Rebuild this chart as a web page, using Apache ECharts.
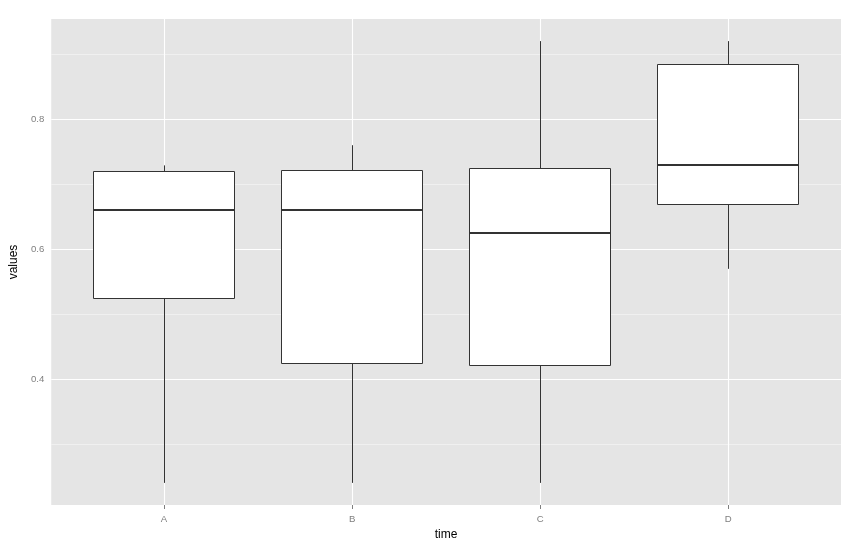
<!DOCTYPE html>
<html>
<head>
<meta charset="utf-8">
<script src="https://cdn.jsdelivr.net/npm/echarts@6/dist/echarts.min.js"></script>
<style>
  html, body { margin: 0; padding: 0; background: #fff; }
  #chart { width: 862px; height: 551px; }
</style>
</head>
<body>
<div id="chart"></div>
<script>
// boxplot stats
const categories = ['A', 'B', 'C', 'D'];
const lowWhisker = [0.241, 0.241, 0.241, 0.570];
const lowerQuartile = [0.525, 0.425, 0.421, 0.669];
const medians = [0.661, 0.660, 0.625, 0.730];
const upperQuartile = [0.720, 0.721, 0.724, 0.884];
const highWhisker = [0.729, 0.760, 0.920, 0.920];

const majorY = [0.4, 0.6, 0.8];
const minorY = [0.3, 0.5, 0.7, 0.9];
const catPos = [0, 1, 2, 3];

const boxData = categories.map((c, i) => [
    i, lowWhisker[i], lowerQuartile[i], medians[i], upperQuartile[i], highWhisker[i]
]);

// keep 1px strokes on the pixel grid
function crisp(v) {
    return Math.round(v - 0.5) + 0.5;
}

function renderBox(params, api) {
    const i = api.value(0);
    const lo = api.coord([i, api.value(1)]);
    const b1 = api.coord([i, api.value(2)]);
    const md = api.coord([i, api.value(3)]);
    const b3 = api.coord([i, api.value(4)]);
    const hi = api.coord([i, api.value(5)]);
    const w = api.size([0.75, 0])[0];
    const cx = crisp(lo[0]);
    const x0 = crisp(lo[0] - w / 2);
    const x1 = crisp(lo[0] + w / 2);
    const yTop = crisp(b3[1]);
    const yBot = crisp(b1[1]);
    const yMed = Math.round(md[1]);
    const stroke = '#333333';
    return {
        type: 'group',
        children: [
            { type: 'line', shape: { x1: cx, y1: lo[1], x2: cx, y2: yBot }, style: { stroke: stroke, lineWidth: 1 } },
            { type: 'line', shape: { x1: cx, y1: hi[1], x2: cx, y2: yTop }, style: { stroke: stroke, lineWidth: 1 } },
            { type: 'rect', shape: { x: x0, y: yTop, width: x1 - x0, height: yBot - yTop }, style: { fill: '#ffffff', stroke: stroke, lineWidth: 1 } },
            { type: 'line', shape: { x1: x0, y1: yMed, x2: x1, y2: yMed }, style: { stroke: stroke, lineWidth: 2 } }
        ]
    };
}

const gridLines = []
    .concat(minorY.map(v => ({ yAxis: v, lineStyle: { color: '#F2F2F2', width: 0.8 } })))
    .concat(majorY.map(v => ({ yAxis: v, lineStyle: { color: '#FFFFFF', width: 1.1 } })))
    .concat(catPos.map(v => ({ xAxis: v, lineStyle: { color: '#FFFFFF', width: 1.1 } })));

const dom = echarts.init(document.getElementById('chart'), null, { renderer: 'canvas' });
const option = {
    animation: false,
    textStyle: { fontFamily: 'Liberation Sans' },
    grid: {
        left: 51,
        right: 21,
        top: 19,
        bottom: 46,
        show: true,
        backgroundColor: '#E5E5E5',
        borderWidth: 0
    },
    xAxis: {
        type: 'value',
        min: -0.6,
        max: 3.6,
        name: 'time',
        nameLocation: 'middle',
        nameGap: 22,
        nameTextStyle: { color: '#000000', fontSize: 12 },
        axisLine: { show: false },
        axisTick: {
            show: true,
            customValues: catPos,
            length: 4,
            lineStyle: { color: '#7F7F7F' }
        },
        axisLabel: {
            customValues: catPos,
            formatter: v => categories[Math.round(v)],
            color: '#7F7F7F',
            fontSize: 9.6,
            margin: 9
        },
        splitLine: { show: false }
    },
    yAxis: {
        type: 'value',
        min: 0.207,
        max: 0.954,
        name: 'values',
        nameLocation: 'middle',
        nameGap: 25,
        nameRotate: 90,
        nameTextStyle: { color: '#000000', fontSize: 12 },
        axisLine: { show: false },
        axisTick: {
            show: true,
            customValues: majorY,
            length: 4,
            lineStyle: { color: '#7F7F7F' }
        },
        axisLabel: {
            customValues: majorY,
            formatter: v => v.toFixed(1),
            color: '#7F7F7F',
            fontSize: 9.6,
            margin: 7
        },
        splitLine: { show: false }
    },
    series: [
        {
            type: 'line',
            data: [],
            silent: true,
            markLine: {
                silent: true,
                z: 1,
                symbol: 'none',
                label: { show: false },
                lineStyle: { type: 'solid' },
                data: gridLines
            }
        },
        {
            type: 'custom',
            z: 3,
            renderItem: renderBox,
            encode: { x: 0, y: [1, 2, 3, 4, 5] },
            data: boxData
        }
    ]
};
dom.setOption(option);
</script>
</body>
</html>
